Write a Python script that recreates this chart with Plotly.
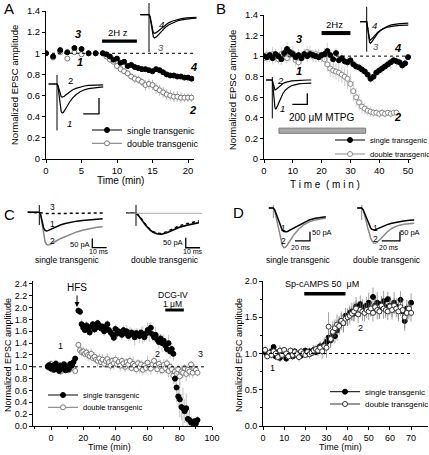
import plotly.graph_objects as go

W, H = 429, 455
FONT = "Liberation Sans, Arial, sans-serif"

# ------------------------------------------------------------------ data
# Panel A
A_t = [0, 1, 2, 3, 4, 5, 6, 7, 8, 8.5, 9, 9.5, 10, 10.5, 11, 11.5, 12, 12.5, 13, 13.5, 14, 14.5,
       15, 15.5, 16, 16.5, 17, 17.5, 18, 18.5, 19, 19.5, 20, 20.5]
A_single = [1.00, 0.97, 1.03, 1.01, 1.05, 1.04, 1.00, 1.00, 1.00, 0.99, 0.97, 0.94, 0.95, 0.91, 0.92,
            0.88, 0.89, 0.87, 0.86, 0.85, 0.85, 0.84, 0.83, 0.85, 0.84, 0.82, 0.80, 0.79, 0.79, 0.78,
            0.78, 0.77, 0.77, 0.76]
A_single_err = [0.01, 0.01, 0.02, 0.01, 0.02, 0.01, 0.01, 0.01, 0.01, 0.01, 0.02, 0.01, 0.02, 0.01, 0.02,
                0.02, 0.01, 0.02, 0.02, 0.01, 0.02, 0.02, 0.01, 0.02, 0.02, 0.02, 0.01, 0.02, 0.02, 0.02,
                0.01, 0.02, 0.02, 0.02]
A_double = [1.00, 0.96, 1.01, 0.95, 1.01, 0.99, 1.00, 1.00, 1.00, 0.97, 0.94, 0.92, 0.88, 0.85, 0.83,
            0.81, 0.78, 0.76, 0.75, 0.73, 0.70, 0.71, 0.70, 0.67, 0.65, 0.63, 0.61, 0.60, 0.59, 0.59,
            0.58, 0.58, 0.58, 0.58]
A_double_err = [0.02, 0.02, 0.02, 0.02, 0.02, 0.02, 0.02, 0.02, 0.02, 0.02, 0.02, 0.02, 0.03, 0.03, 0.03,
                0.03, 0.03, 0.04, 0.04, 0.04, 0.05, 0.05, 0.05, 0.05, 0.05, 0.05, 0.05, 0.05, 0.05, 0.05,
                0.05, 0.04, 0.04, 0.04]

# Panel B
B_t_single = [0, 1, 2, 3, 4, 5, 6, 7, 8, 9, 10, 11, 12, 13, 14, 15, 16, 17, 18, 19, 20, 21, 22, 23, 24,
              25, 26, 27, 28, 29, 30, 31, 32, 33, 34, 35, 36, 37, 38, 39, 40, 41, 42, 43, 44, 45, 46,
              47, 48, 49, 50]
B_single = [1.00, 0.99, 1.01, 0.98, 1.02, 1.00, 0.97, 1.03, 1.07, 1.04, 1.02,
            0.99, 1.01, 0.98, 1.02, 1.00, 1.02, 1.01, 1.00, 0.99, 1.01,
            1.02, 1.05, 1.01, 0.97, 1.03, 0.96, 0.98, 0.95, 0.94, 0.96,
            0.92, 0.90, 0.89, 0.87, 0.85, 0.82, 0.78, 0.80, 0.84, 0.86,
            0.88, 0.90, 0.92, 0.94, 0.96, 0.95, 0.94, 0.91, 0.93, 0.99]
B_single_err = [0.04, 0.05, 0.04, 0.06, 0.05, 0.04, 0.06, 0.05, 0.07, 0.05, 0.04,
                0.05, 0.06, 0.04, 0.05, 0.06, 0.04, 0.05, 0.06, 0.05, 0.04,
                0.06, 0.08, 0.05, 0.06, 0.05, 0.04, 0.05, 0.04, 0.05, 0.04,
                0.04, 0.05, 0.04, 0.05, 0.04, 0.05, 0.04, 0.05, 0.04, 0.05,
                0.05, 0.04, 0.05, 0.06, 0.04, 0.05, 0.04, 0.05, 0.04, 0.03]
B_t_double = [0, 1, 2, 3, 4, 5, 6, 7, 8, 9, 10, 11, 12, 13, 14, 15, 16, 17, 18, 19, 20, 21, 22, 23, 24,
              25, 26, 27, 28, 29, 30, 31, 32, 33, 34, 35, 36, 37, 38, 39, 40, 41, 42, 43, 44, 45, 46]
B_double = [0.98, 1.01, 0.99, 1.02, 1.00, 0.97, 1.02, 1.00, 0.98, 1.01, 1.03,
            0.96, 0.94, 0.98, 1.02, 1.04, 1.03, 1.00, 1.02, 1.01, 0.99,
            0.97, 0.92, 0.88, 0.86, 0.85, 0.84, 0.82, 0.80, 0.78, 0.73,
            0.66, 0.60, 0.55, 0.51, 0.49, 0.47, 0.46, 0.45, 0.45, 0.44,
            0.45, 0.44, 0.45, 0.44, 0.45, 0.45]
B_double_err = [0.05, 0.06, 0.05, 0.07, 0.06, 0.05, 0.07, 0.06, 0.05, 0.06, 0.07,
                0.06, 0.07, 0.06, 0.05, 0.06, 0.07, 0.06, 0.05, 0.06, 0.05,
                0.06, 0.07, 0.08, 0.07, 0.08, 0.09, 0.08, 0.09, 0.10, 0.10,
                0.10, 0.09, 0.08, 0.07, 0.06, 0.05, 0.05, 0.04, 0.04, 0.04,
                0.04, 0.04, 0.03, 0.04, 0.03, 0.03]

# Panel C
C_t = [-2, -1, 0, 1, 2, 3, 4, 5, 6, 7, 8, 9, 10, 11, 12, 13, 14, 15,
       17, 18, 19, 20, 21, 22, 23, 24, 25, 26, 27, 28, 29, 30, 31,
       32, 33, 34, 35, 36, 37, 38, 39, 40, 41, 42, 43, 44, 45, 46,
       47, 48, 49, 50, 51, 52, 53, 54, 55, 56, 57, 58, 59, 60, 61,
       62, 63, 64, 65, 66, 67, 68, 69, 70, 71, 72, 73, 74, 75, 76,
       77, 78, 79, 80, 81, 82, 83, 84, 85, 86, 87, 88, 89, 90, 91]
C_single = [1.00, 1.03, 0.97, 1.02, 0.95, 1.05, 0.98, 0.93, 1.02, 0.97, 1.04, 0.94, 1.00, 0.96, 1.05,
            1.02, 1.08, 1.14,
            1.95, 1.93, 1.72, 1.66, 1.62, 1.70, 1.64, 1.58, 1.68, 1.72, 1.63, 1.66, 1.74, 1.70,
            1.65, 1.68, 1.60, 1.66, 1.72, 1.62, 1.58, 1.55, 1.49, 1.64, 1.56, 1.60, 1.58, 1.54, 1.62,
            1.57, 1.60, 1.52, 1.56, 1.58, 1.54, 1.50, 1.57, 1.55, 1.52, 1.58, 1.54, 1.50, 1.56, 1.62,
            1.58, 1.66, 1.55, 1.50, 1.54, 1.46, 1.42, 1.48, 1.40, 1.44, 1.36, 1.30, 1.40, 1.26, 1.30,
            1.22, 0.80, 0.65, 0.50, 0.45, 0.32, 0.30, 0.25, 0.30, 0.12, 0.10, 0.06, 0.05, 0.08, 0.04,
            0.10]
C_single_err = [0.04, 0.05, 0.03, 0.06, 0.04, 0.05, 0.03, 0.04, 0.06, 0.03, 0.05, 0.04, 0.03, 0.05, 0.04,
                0.06, 0.05, 0.04,
                0.04, 0.05, 0.08, 0.06, 0.05, 0.07, 0.06, 0.05, 0.08, 0.06, 0.05, 0.07, 0.06, 0.05, 0.07,
                0.06, 0.08, 0.05, 0.07, 0.06, 0.09, 0.07, 0.06, 0.08, 0.10, 0.07, 0.06, 0.09, 0.08, 0.07,
                0.10, 0.08, 0.12, 0.07, 0.09, 0.14, 0.08, 0.10, 0.12, 0.09, 0.15, 0.08, 0.11, 0.13, 0.16,
                0.10, 0.12, 0.09, 0.14, 0.10, 0.12, 0.08, 0.15, 0.10, 0.12, 0.09, 0.14, 0.11, 0.10, 0.12,
                0.20, 0.25, 0.18, 0.30, 0.22, 0.35, 0.20, 0.25, 0.15, 0.18, 0.10, 0.08, 0.06, 0.08, 0.07]
C_double = [1.02, 0.98, 1.05, 0.95, 1.00, 1.06, 0.97, 1.03, 0.92, 1.00, 1.05, 0.96, 1.02, 0.94, 1.00,
            1.04, 0.98, 0.93,
            1.37, 1.28, 1.25, 1.26, 1.22, 1.24, 1.20, 1.18, 1.22, 1.15, 1.17, 1.12, 1.10, 1.14, 1.08,
            1.12, 1.05, 1.10, 1.13, 1.08, 1.02, 1.10, 1.06, 1.12, 1.04, 1.08, 1.02, 1.10, 1.06, 1.00,
            1.08, 1.04, 1.10, 0.98, 1.05, 1.02, 0.96, 1.06, 1.00, 1.04, 0.95, 1.02, 0.98, 1.07, 1.00,
            0.97, 1.04, 1.10, 1.02, 0.96, 1.05, 1.00, 0.94, 1.03, 0.98, 1.06, 0.93, 1.00, 0.96, 0.85,
            0.92, 0.88, 0.96, 0.84, 0.92, 0.90, 0.98, 0.88, 0.95, 0.92, 1.04, 0.90, 0.97, 0.95, 0.90]
C_double_err = [0.05, 0.04, 0.06, 0.05, 0.04, 0.06, 0.05, 0.04, 0.06, 0.05, 0.04, 0.05, 0.06, 0.04, 0.05,
                0.06, 0.05, 0.04,
                0.06, 0.08, 0.07, 0.09, 0.06, 0.08, 0.10, 0.07, 0.09, 0.06, 0.08, 0.07, 0.10, 0.08, 0.06,
                0.09, 0.07, 0.08, 0.10, 0.06, 0.09, 0.07, 0.11, 0.08, 0.06, 0.09, 0.10, 0.07, 0.08, 0.09,
                0.07, 0.10, 0.08, 0.06, 0.12, 0.08, 0.09, 0.07, 0.11, 0.08, 0.10, 0.07, 0.09, 0.12, 0.08,
                0.10, 0.08, 0.07, 0.11, 0.09, 0.08, 0.12, 0.07, 0.10, 0.09, 0.08, 0.11, 0.07, 0.10, 0.14,
                0.09, 0.12, 0.08, 0.15, 0.10, 0.09, 0.07, 0.12, 0.08, 0.10, 0.06, 0.09, 0.08, 0.07, 0.06]

# Panel D
D_t = [1, 2, 3, 4, 5, 6, 7, 8, 9, 10, 11, 12, 13, 14, 15, 16, 17, 18, 19, 20,
       21, 22, 23, 24, 25, 26, 27, 28, 29, 30, 31, 32, 33, 34, 35, 36, 37, 38, 39, 40,
       41, 42, 43, 44, 45, 46, 47, 48, 49, 50, 51, 52, 53, 54, 55, 56, 57, 58, 59, 60,
       61, 62, 63, 64, 65, 66, 67, 68, 69, 70]
D_single = [1.02, 0.98, 1.00, 1.03, 1.09, 0.96, 1.02, 0.94, 0.98, 1.00,
            0.93, 0.97, 1.01, 0.96, 1.03, 0.98, 1.00, 0.97, 1.02, 1.04,
            0.99, 1.03, 1.01, 1.05, 1.02, 1.07, 1.10, 1.05, 1.12, 1.16,
            1.22, 1.18, 1.28, 1.24, 1.32, 1.40, 1.45, 1.42, 1.52, 1.50,
            1.56, 1.58, 1.55, 1.65, 1.62, 1.68, 1.64, 1.60, 1.66, 1.70,
            1.62, 1.78, 1.66, 1.70, 1.60, 1.68, 1.72, 1.64, 1.75, 1.66,
            1.62, 1.70, 1.65, 1.60, 1.74, 1.58, 1.45, 1.62, 1.58, 1.70]
D_single_err = [0.04, 0.03, 0.05, 0.04, 0.03, 0.05, 0.04, 0.06, 0.04, 0.03,
                0.05, 0.04, 0.03, 0.05, 0.04, 0.03, 0.05, 0.04, 0.03, 0.04,
                0.04, 0.05, 0.04, 0.06, 0.05, 0.06, 0.07, 0.06, 0.08, 0.09,
                0.10, 0.08, 0.12, 0.10, 0.14, 0.12, 0.10, 0.13, 0.11, 0.12,
                0.10, 0.12, 0.11, 0.13, 0.10, 0.12, 0.11, 0.10, 0.12, 0.14,
                0.11, 0.13, 0.10, 0.15, 0.12, 0.11, 0.14, 0.12, 0.10, 0.13,
                0.12, 0.15, 0.11, 0.13, 0.12, 0.10, 0.14, 0.12, 0.11, 0.13]
D_double = [1.05, 0.96, 1.01, 0.98, 1.03, 1.00, 0.95, 1.04, 0.98, 1.05,
            1.00, 0.96, 1.04, 0.98, 1.02, 0.99, 0.95, 1.03, 1.00, 0.98,
            1.02, 0.99, 1.01, 1.04, 1.06, 1.04, 1.08, 1.03, 1.10, 1.08,
            1.37, 1.20, 1.30, 1.35, 1.40, 1.38, 1.45, 1.42, 1.48, 1.50,
            1.52, 1.55, 1.58, 1.62, 1.54, 1.60, 1.58, 1.56, 1.60, 1.58,
            1.62, 1.56, 1.64, 1.60, 1.58, 1.66, 1.62, 1.60, 1.58, 1.65,
            1.60, 1.66, 1.62, 1.58, 1.64, 1.60, 1.50, 1.56, 1.62, 1.56]
D_double_err = [0.05, 0.04, 0.06, 0.05, 0.04, 0.06, 0.05, 0.07, 0.05, 0.04,
                0.06, 0.05, 0.04, 0.06, 0.05, 0.04, 0.06, 0.05, 0.04, 0.05,
                0.05, 0.06, 0.05, 0.07, 0.06, 0.08, 0.07, 0.10, 0.12, 0.14,
                0.20, 0.12, 0.15, 0.12, 0.14, 0.12, 0.13, 0.12, 0.10, 0.12,
                0.12, 0.10, 0.13, 0.11, 0.12, 0.10, 0.13, 0.12, 0.11, 0.12,
                0.10, 0.12, 0.11, 0.13, 0.10, 0.12, 0.14, 0.11, 0.12, 0.10,
                0.13, 0.11, 0.12, 0.14, 0.12, 0.13, 0.15, 0.12, 0.11, 0.12]

# application periods (min)
A_stim = [7.9, 12.8]
B_stim = [20, 30]
B_mtpg = [5.2, 35.3]
C_dcg = [71, 82.5]
D_camps = [19.5, 39]

# inset EPSC traces (ms, normalised current)
ep_t = [-8, 0, 1, 2, 3, 4, 5, 6, 7, 8, 10, 12, 15, 18, 22, 26, 30, 35, 40, 44]
A_tr3 = [0, 0, -0.1, -0.45, -0.8, -0.95, -1.0, -0.99, -0.95, -0.9, -0.8, -0.69, -0.55, -0.44, -0.34, -0.27, -0.22, -0.18, -0.16, -0.15]
A_tr4 = [0, 0, -0.08, -0.38, -0.66, -0.78, -0.8, -0.79, -0.76, -0.72, -0.64, -0.55, -0.44, -0.35, -0.27, -0.21, -0.17, -0.14, -0.12, -0.11]
A_tr1 = [0, 0, -0.1, -0.45, -0.8, -0.95, -1.0, -0.98, -0.93, -0.86, -0.74, -0.62, -0.48, -0.37, -0.27, -0.2, -0.16, -0.13, -0.11, -0.1]
A_tr2 = [0, 0, -0.05, -0.22, -0.38, -0.44, -0.45, -0.44, -0.42, -0.39, -0.33, -0.27, -0.2, -0.15, -0.1, -0.07, -0.05, -0.04, -0.03, -0.03]
B_tr3 = [0, 0, -0.3, -0.7, -0.95, -1.0, -0.96, -0.9, -0.83, -0.76, -0.63, -0.52, -0.4, -0.3, -0.21, -0.15, -0.11, -0.09, -0.08, -0.07]
B_tr4 = [0, 0, -0.25, -0.6, -0.8, -0.85, -0.82, -0.77, -0.72, -0.67, -0.57, -0.48, -0.39, -0.31, -0.25, -0.21, -0.19, -0.17, -0.16, -0.16]
B_tr1 = [0, 0, -0.3, -0.7, -0.95, -1.0, -0.95, -0.88, -0.8, -0.72, -0.58, -0.46, -0.34, -0.26, -0.19, -0.15, -0.13, -0.12, -0.11, -0.11]
B_tr2 = [0, 0, -0.12, -0.28, -0.34, -0.33, -0.3, -0.27, -0.24, -0.21, -0.16, -0.12, -0.08, -0.05, -0.03, -0.02, -0.01, 0, 0, 0]
Cs_tr2 = [0, 0, -0.1, -0.4, -0.72, -0.9, -0.98, -1.0, -0.99, -0.97, -0.92, -0.87, -0.8, -0.74, -0.66, -0.6, -0.55, -0.5, -0.46, -0.44]
Cs_tr1 = [0, 0, -0.08, -0.3, -0.48, -0.55, -0.57, -0.56, -0.54, -0.52, -0.47, -0.43, -0.38, -0.34, -0.3, -0.27, -0.25, -0.22, -0.21, -0.2]
Cs_tr3 = [0, 0, 0, -0.02, -0.03, -0.04, -0.04, -0.04, -0.04, -0.04, -0.04, -0.03, -0.03, -0.03, -0.03, -0.03, -0.03, -0.02, -0.02, -0.02]
Cd_tr1 = [0, 0, -0.05, -0.12, -0.2, -0.3, -0.4, -0.5, -0.58, -0.66, -0.8, -0.9, -0.98, -1.0, -0.92, -0.8, -0.68, -0.58, -0.5, -0.45]
Cd_tr2 = [0, 0, -0.05, -0.13, -0.22, -0.32, -0.42, -0.52, -0.6, -0.68, -0.82, -0.92, -1.0, -1.0, -0.9, -0.78, -0.66, -0.56, -0.48, -0.43]
Cd_tr3 = [0, 0, -0.04, -0.11, -0.19, -0.28, -0.38, -0.48, -0.56, -0.64, -0.78, -0.88, -0.95, -0.96, -0.86, -0.72, -0.6, -0.5, -0.42, -0.36]
ep_t2 = [-6, 0, 2, 4, 6, 8, 10, 12, 14, 16, 18, 20, 24, 28, 34, 40, 48, 56, 64, 70]
Ds_tr1 = [0, 0, -0.05, -0.15, -0.28, -0.4, -0.5, -0.56, -0.59, -0.6, -0.6, -0.58, -0.54, -0.49, -0.42, -0.36, -0.3, -0.26, -0.23, -0.22]
Ds_tr2 = [0, 0, -0.08, -0.25, -0.45, -0.65, -0.82, -0.94, -1.0, -0.99, -0.95, -0.89, -0.77, -0.66, -0.53, -0.43, -0.35, -0.3, -0.27, -0.26]
Dd_tr1 = [0, 0, -0.05, -0.15, -0.28, -0.4, -0.5, -0.57, -0.61, -0.62, -0.62, -0.6, -0.56, -0.52, -0.47, -0.43, -0.39, -0.37, -0.35, -0.34]
Dd_tr2 = [0, 0, -0.06, -0.2, -0.38, -0.56, -0.72, -0.85, -0.94, -0.99, -1.0, -0.98, -0.9, -0.8, -0.68, -0.58, -0.5, -0.46, -0.44, -0.43]

SINGLE = "single transgenic"
DOUBLE = "double transgenic"

# ------------------------------------------------------------------ helpers
def px(x, y):
    return x / W, 1 - y / H


fig = go.Figure()
layout = dict(width=W, height=H, margin=dict(l=0, r=0, t=0, b=0, pad=0, autoexpand=False),
              paper_bgcolor="white", plot_bgcolor="rgba(0,0,0,0)",
              font=dict(family=FONT, size=10, color="black"), showlegend=True)
annotations = []
shapes = []


def ax_name(i, kind):
    return kind + ("" if i == 1 else str(i))


def main_axes(i, xpx, ypx, xr, yr, xticks, yticks, yticktext=None, tfs=9.5, xminor=None, yminor=None):
    xd = [xpx[0] / W, xpx[1] / W]
    yd = [1 - ypx[1] / H, 1 - ypx[0] / H]
    common = dict(showline=True, linecolor="black", linewidth=1, ticks="outside", ticklen=3,
                  tickcolor="black", tickwidth=1, showgrid=False, zeroline=False, fixedrange=True,
                  tickfont=dict(size=tfs, family=FONT))
    xa = dict(common, domain=xd, range=xr, tickvals=xticks, anchor=ax_name(i, "y"))
    ya = dict(common, domain=yd, range=yr, tickvals=yticks, anchor=ax_name(i, "x"))
    if xminor:
        xa["minor"] = dict(ticks="outside", ticklen=2, dtick=xminor, tickcolor="black")
    if yminor:
        ya["minor"] = dict(ticks="outside", ticklen=2, dtick=yminor, tickcolor="black")
    if yticktext:
        ya["ticktext"] = yticktext
    layout[ax_name(i, "xaxis")] = xa
    layout[ax_name(i, "yaxis")] = ya


def series(i, t, v, e, filled, ecol, mcol, msize=5):
    if filled:
        marker = dict(symbol="circle", size=msize, color="black", line=dict(color="black", width=1))
    else:
        marker = dict(symbol="circle", size=msize, color="white", line=dict(color=mcol, width=1))
    fig.add_trace(go.Scatter(x=t, y=v, mode="markers", marker=marker, showlegend=False,
                             error_y=dict(type="data", array=e, color=ecol, thickness=0.7, width=0),
                             xaxis=ax_name(i, "x"), yaxis=ax_name(i, "y"), hoverinfo="skip"))


def legend_item(lname, name, filled, col, tx, ty, fs):
    if filled:
        marker = dict(symbol="circle", size=5, color="black", line=dict(color="black", width=1))
    else:
        marker = dict(symbol="circle", size=5, color="white", line=dict(color=col, width=1))
    fig.add_trace(go.Scatter(x=[None], y=[None], mode="lines+markers", name=name, marker=marker,
                             line=dict(color=col, width=1), legend=lname, xaxis="x", yaxis="y"))
    lx, ly = px(tx - 34, ty)
    layout[lname] = dict(x=lx, y=ly, xanchor="left", yanchor="middle", bgcolor="rgba(0,0,0,0)",
                         borderwidth=0, font=dict(size=fs, family=FONT), itemwidth=30,
                         tracegroupgap=0)


def text(x, y, s, size=10, color="black", angle=0, xanchor="center"):
    ax_, ay_ = px(x, y)
    annotations.append(dict(x=ax_, y=ay_, xref="paper", yref="paper", text=s, showarrow=False,
                            font=dict(size=size, color=color, family=FONT), textangle=angle,
                            xanchor=xanchor, yanchor="middle"))


def inset(i, box, stim, base, xs, ys, traces, bars=None, stimline=None, hline=False):
    xl, xr, yt, yb = box
    layout[ax_name(i, "xaxis")] = dict(domain=[xl / W, xr / W], range=[(xl - stim) / xs, (xr - stim) / xs],
                                       visible=False, fixedrange=True, anchor=ax_name(i, "y"))
    layout[ax_name(i, "yaxis")] = dict(domain=[1 - yb / H, 1 - yt / H],
                                       range=[(base - yb) / ys, (base - yt) / ys],
                                       visible=False, fixedrange=True, anchor=ax_name(i, "x"))
    xa, ya = ax_name(i, "x"), ax_name(i, "y")
    if hline:
        shapes.append(dict(type="line", xref=xa, yref=ya, x0=(xl - stim) / xs, x1=(xr - stim) / xs,
                           y0=0, y1=0, line=dict(color="#aaaaaa", width=1)))
    if stimline:
        sx, sy, scol = stimline
        fig.add_trace(go.Scatter(x=sx, y=sy, mode="lines", line=dict(color=scol, width=1),
                                 xaxis=xa, yaxis=ya, showlegend=False, hoverinfo="skip"))
    for (tt, vv, col, dash, w) in traces:
        fig.add_trace(go.Scatter(x=tt, y=vv, mode="lines", line=dict(color=col, width=w, dash=dash),
                                 xaxis=xa, yaxis=ya, showlegend=False, hoverinfo="skip"))
    if bars:
        fig.add_trace(go.Scatter(x=bars[0], y=bars[1], mode="lines", line=dict(color="black", width=1.3),
                                 xaxis=xa, yaxis=ya, showlegend=False, hoverinfo="skip"))


# ------------------------------------------------------------------ panel A
main_axes(1, (46, 194.4), (11, 159), [0, 20.9], [0, 1.4], [0, 5, 10, 15, 20],
          [0, 0.2, 0.4, 0.6, 0.8, 1.0, 1.2, 1.4], ["0", "0.2", "0.4", "0.6", "0.8", "1", "1.2", "1.4"])
shapes.append(dict(type="line", xref="x", yref="y", x0=0, x1=20.9, y0=1, y1=1,
                   line=dict(color="black", width=1, dash="dot")))
shapes.append(dict(type="rect", xref="x", yref="y", x0=A_stim[0], x1=A_stim[1], y0=1.10, y1=1.13,
                   fillcolor="black", line=dict(width=0)))
series(1, A_t, A_double, A_double_err, False, "#999999", "#777777")
series(1, A_t, A_single, A_single_err, True, "#666666", "black")

# ------------------------------------------------------------------ panel B
main_axes(2, (264, 410.9), (15, 159), [0, 51], [0, 1.4], [0, 10, 20, 30, 40, 50],
          [0, 0.2, 0.4, 0.6, 0.8, 1.0, 1.2, 1.4], ["0", "0.2", "0.4", "0.6", "0.8", "1", "1.2", "1.4"])
shapes.append(dict(type="line", xref="x2", yref="y2", x0=0, x1=51, y0=1, y1=1,
                   line=dict(color="black", width=1, dash="dot")))
shapes.append(dict(type="rect", xref="x2", yref="y2", x0=B_stim[0], x1=B_stim[1], y0=1.205, y1=1.244,
                   fillcolor="black", line=dict(width=0)))
shapes.append(dict(type="rect", xref="x2", yref="y2", x0=B_mtpg[0], x1=B_mtpg[1], y0=0.25, y1=0.30,
                   fillcolor="#aaaaaa", line=dict(color="#777777", width=1)))
series(2, B_t_double, B_double, B_double_err, False, "#bbbbbb", "#888888")
series(2, B_t_single, B_single, B_single_err, True, "#bbbbbb", "black")

# ------------------------------------------------------------------ panel C
main_axes(3, (33, 212), (281, 426), [-11.2, 100], [0, 2.45], [0, 20, 40, 60, 80, 100],
          [0, 0.2, 0.4, 0.6, 0.8, 1.0, 1.2, 1.4, 1.6, 1.8, 2.0, 2.2, 2.4],
          ["0.0", "0.2", "0.4", "0.6", "0.8", "1.0", "1.2", "1.4", "1.6", "1.8", "2.0", "2.2", "2.4"],
          tfs=9, xminor=10)
shapes.append(dict(type="line", xref="x3", yref="y3", x0=-11.2, x1=95, y0=1, y1=1,
                   line=dict(color="black", width=1, dash="dot")))
shapes.append(dict(type="rect", xref="x3", yref="y3", x0=C_dcg[0], x1=C_dcg[1], y0=1.935, y1=1.985,
                   fillcolor="black", line=dict(width=0)))
series(3, C_t, C_double, C_double_err, False, "#aaaaaa", "#777777")
series(3, C_t, C_single, C_single_err, True, "#aaaaaa", "black")

# ------------------------------------------------------------------ panel D
main_axes(4, (263, 428), (281, 426), [0, 78], [0, 2.0], [0, 10, 20, 30, 40, 50, 60, 70],
          [0, 0.5, 1.0, 1.5, 2.0], ["0.0", "0.5", "1.0", "1.5", "2.0"], tfs=9, yminor=0.25)
shapes.append(dict(type="line", xref="x4", yref="y4", x0=0, x1=71, y0=1, y1=1,
                   line=dict(color="black", width=1, dash="dot")))
shapes.append(dict(type="rect", xref="x4", yref="y4", x0=D_camps[0], x1=D_camps[1], y0=1.80, y1=1.85,
                   fillcolor="black", line=dict(width=0)))
series(4, D_t, D_single, D_single_err, True, "#777777", "black")
series(4, D_t, D_double, D_double_err, False, "#777777", "#333333")

# ------------------------------------------------------------------ insets
inset(5, (138, 198, 2, 54), 149, 14.7, 1.08, 23.3,
      [(ep_t, A_tr3, "black", "solid", 1.2), (ep_t, A_tr4, "black", "solid", 1.2)],
      stimline=([0, 0], [0.5, -1.6], "black"))
inset(6, (48, 104, 73, 132), 57, 84, 1.05, 29,
      [(ep_t, A_tr1, "black", "solid", 1.2), (ep_t, A_tr2, "black", "solid", 1.2)],
      bars=([25, 40, 40], [-1.03, -1.03, -0.48]), stimline=([0, 0], [0.31, -1.6], "black"))
inset(7, (360, 410, 5, 53), 366.7, 21.7, 0.945, 21.6,
      [(ep_t, B_tr3, "black", "solid", 1.2), (ep_t, B_tr4, "black", "solid", 1.2)],
      stimline=([0, 0], [0.69, -1.39], "black"))
inset(8, (266, 312, 75, 120), 272.3, 80, 0.886, 29.3,
      [(ep_t, B_tr1, "black", "solid", 1.2), (ep_t, B_tr2, "black", "solid", 1.2)],
      bars=([22.6, 39.5, 39.5], [-0.83, -0.83, -0.45]), stimline=([0, 0], [0.1, -1.31], "black"))
inset(9, (26, 108, 203, 250), 39.3, 212.3, 1.44, 32.7,
      [(ep_t, Cs_tr3, "black", "dot", 1.5), (ep_t, Cs_tr2, "#888888", "solid", 1.5),
       (ep_t, Cs_tr1, "black", "solid", 1.5)],
      bars=([36.8, 36.8, 46.8], [-0.8, -1.08, -1.08]), stimline=([0, 0], [0.22, -0.39], "black"))
inset(10, (126, 202, 203, 250), 136, 213.3, 1.43, 21,
      [(ep_t, Cd_tr2, "#888888", "solid", 1.5), (ep_t, Cd_tr1, "black", "solid", 1.5),
       (ep_t, Cd_tr3, "black", "dot", 1.5)],
      bars=([34.8, 34.8, 44.8], [-1.16, -1.64, -1.64]), stimline=([0, 0], [0.4, -0.6], "black"),
      hline=True)
inset(11, (266, 330, 203, 250), 273.3, 208, 0.75, 39.7,
      [(ep_t2, Ds_tr2, "#888888", "solid", 1.5), (ep_t2, Ds_tr1, "black", "solid", 1.5)],
      bars=([28.9, 48.9, 48.9], [-0.83, -0.83, -0.6]), stimline=([0, 0], [0.08, -0.25], "#888888"))
inset(12, (355, 418, 203, 250), 361.7, 208, 0.75, 35.3,
      [(ep_t2, Dd_tr2, "#888888", "solid", 1.5), (ep_t2, Dd_tr1, "black", "solid", 1.5)],
      bars=([26.7, 48.8, 51, 51], [-0.93, -0.93, -0.93, -0.67]), stimline=([0, 0], [0.08, -0.34], "#888888"))

# ------------------------------------------------------------------ legends
legend_item("legend", SINGLE, True, "black", 121, 130, 9)
legend_item("legend2", DOUBLE, False, "#777777", 121, 143.3, 9)
legend_item("legend3", SINGLE, True, "black", 364, 140, 7.6)
legend_item("legend4", DOUBLE, False, "#888888", 364, 154, 7.6)
legend_item("legend5", SINGLE, True, "black", 77, 395, 7.5)
legend_item("legend6", DOUBLE, False, "#777777", 77, 407.3, 7.5)
legend_item("legend7", SINGLE, True, "black", 359, 391.7, 8)
legend_item("legend8", DOUBLE, False, "#333333", 359, 404, 8)

# ------------------------------------------------------------------ texts
text(9, 8, "A", 15); text(221, 8, "B", 15); text(9, 214, "C", 15); text(238, 212, "D", 15)
BI = lambda s: "<b><i>%s</i></b>" % s
# A
text(14, 85, "Normalized EPSC amplitude", 9.5, angle=-90)
text(120, 181, "Time (min)", 10)
text(118, 33, "2H z", 9.5)
text(78, 34, BI("3"), 11); text(80, 62, BI("1"), 11); text(193, 67, BI("4"), 11); text(192, 110, BI("2"), 11)
text(161, 24, "<i>4</i>", 9.5); text(161, 48, "<i>3</i>", 9.5, color="#555555")
text(70, 80, "2", 9.5); text(69, 124, "<i>1</i>", 9.5)
# B
text(233, 90, "Normalized EPSC amplitude", 9.5, angle=-90)
text(325, 184, "T i m e  ( m i n )", 10)
text(334, 24, "2Hz", 9.5)
text(321, 118, "200 \u03bcM MTPG", 10)
text(299, 39, BI("3"), 11); text(299, 71, BI("1"), 11); text(397, 48, BI("4"), 11); text(397, 117, BI("2"), 11)
text(374, 25, "<i>4</i>", 9.5); text(376, 47, "<i>3</i>", 9.5, color="#555555")
text(280, 80, "<i>2</i>", 9.5); text(282, 108, "<i>1</i>", 9.5)
# C
text(8, 355, "Normalized EPSC amplitude", 9, angle=-90)
text(110, 447, "Time (min)", 9)
text(77, 287, "HFS", 10)
ax_, ay_ = px(77, 307)
annotations.append(dict(x=ax_, y=ay_, xref="paper", yref="paper", text="", showarrow=True,
                        arrowhead=2, arrowsize=1, arrowwidth=1, ax=0, ay=-13, arrowcolor="black"))
text(173, 295, "DCG-IV", 8.5); text(172, 304, "1 \u03bcM", 8.5)
text(61, 346, "1", 9); text(157, 354, "2", 9); text(200, 354, "3", 9)
text(52, 207, "3", 8.5); text(52, 224, "1", 8.5); text(52, 241, "2", 8.5)
text(80, 244, "50 pA", 7.5); text(99, 251, "10 ms", 7)
text(173, 242, "50 pA", 7.5); text(193, 251, "10 ms", 7)
text(67, 260, "single transgenic", 8.5); text(165, 260, "double transgenic", 8.5)
# D
text(239, 355, "Normalized EPSC amplitude", 9, angle=-90)
text(340, 447, "Time (min)", 9)
text(322, 284, "Sp-cAMPS 50  \u03bcM", 9)
text(272, 368, "1", 9); text(360, 328, "2", 9)
text(283, 228, "1", 8.5); text(283, 241, "2", 8.5)
text(375, 228, "1", 8.5); text(375, 239, "2", 8.5)
text(322, 233, "50 pA", 7.5); text(301, 248, "20 ms", 7)
text(410, 233, "50 pA", 7.5); text(389, 248, "20 ms", 7)
text(298, 260, "single transgenic", 8.5); text(387, 260, "double transgenic", 8.5)

layout["annotations"] = annotations
layout["shapes"] = shapes
fig.update_layout(**layout)
fig.write_html("out.html", config={"displayModeBar": False},
               post_script="document.body.style.margin='0px';document.body.style.padding='0px';"
                           "document.body.style.overflow='hidden';")
